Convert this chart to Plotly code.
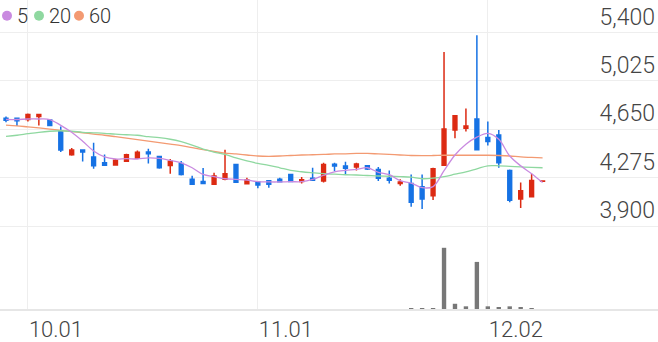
import plotly.graph_objects as go

# ---- data ----
opens  = [4735, 4736, 4727, 4750, 4722, 4635, 4452, 4490, 4435, 4390,
          4373, 4402, 4425, 4475, 4440, 4370, 4385, 4262, 4245, 4225,
          4262, 4378, 4228, 4242, 4252, 4262, 4300, 4245, 4270, 4250,
          4380, 4365, 4358, 4367, 4338, 4270, 4230, 4230, 4205, 4135,
          4372, 4645, 4658, 4730, 4586, 4606, 4330, 4110, 4127, 4248]
highs  = [4750, 4738, 4772, 4768, 4725, 4672, 4505, 4492, 4545, 4455,
          4420, 4460, 4485, 4500, 4445, 4420, 4405, 4290, 4350, 4313,
          4492, 4382, 4275, 4250, 4255, 4275, 4302, 4280, 4352, 4390,
          4390, 4398, 4390, 4372, 4357, 4330, 4262, 4300, 4300, 4352,
          5250, 4758, 4812, 5380, 4710, 4645, 4338, 4237, 4305, 4255]
lows   = [4705, 4675, 4711, 4680, 4675, 4475, 4445, 4400, 4345, 4370,
          4370, 4398, 4420, 4385, 4345, 4305, 4292, 4222, 4228, 4222,
          4255, 4238, 4222, 4193, 4198, 4238, 4240, 4230, 4253, 4237,
          4325, 4300, 4330, 4335, 4250, 4230, 4212, 4050, 4033, 4102,
          4365, 4581, 4633, 4490, 4525, 4352, 4085, 4040, 4125, 4242]
closes = [4720, 4716, 4765, 4765, 4680, 4490, 4489, 4475, 4367, 4372,
          4410, 4452, 4472, 4460, 4352, 4402, 4300, 4225, 4230, 4288,
          4305, 4240, 4258, 4218, 4225, 4243, 4245, 4260, 4255, 4377,
          4365, 4348, 4382, 4343, 4270, 4255, 4242, 4085, 4110, 4345,
          4652, 4755, 4675, 4492, 4556, 4390, 4100, 4173, 4254, 4250]
volumes = [0, 0, 0, 0, 0, 0, 0, 0, 0, 0,
           0, 0, 0, 0, 0, 0, 0, 0, 0, 0,
           0, 0, 0, 0, 0, 0, 0, 0, 0, 0,
           0, 0, 0, 0, 0, 0, 0, 20, 40, 100,
           6200, 530, 270, 4770, 270, 200, 270, 130, 70, 0]
ma5  = [4726, 4726, 4730, 4730, 4726, 4681, 4627, 4558, 4482, 4436,
        4420, 4423, 4420, 4428, 4424, 4409, 4390, 4352, 4300, 4283,
        4267, 4262, 4257, 4244, 4242, 4242, 4244, 4244, 4262, 4294,
        4321, 4332, 4339, 4352, 4317, 4298, 4252, 4233, 4198, 4206,
        4329, 4451, 4535, 4589, 4619, 4573, 4443, 4367, 4306, 4237]
ma20 = [4596, 4604, 4616, 4627, 4635, 4639, 4635, 4627, 4623, 4619,
        4612, 4608, 4604, 4593, 4585, 4573, 4554, 4528, 4497, 4474,
        4455, 4428, 4405, 4386, 4371, 4352, 4332, 4321, 4313, 4306,
        4302, 4298, 4296, 4292, 4288, 4286, 4283, 4279, 4267, 4271,
        4283, 4302, 4321, 4344, 4367, 4367, 4363, 4359, 4355, 4352]
ma60 = [4683, 4677, 4669, 4661, 4652, 4642, 4632, 4623, 4613, 4604,
        4593, 4581, 4570, 4558, 4547, 4535, 4524, 4508, 4493, 4478,
        4466, 4459, 4451, 4443, 4441, 4443, 4447, 4451, 4453, 4455,
        4459, 4460, 4463, 4463, 4459, 4455, 4451, 4447, 4446, 4447,
        4449, 4449, 4449, 4449, 4449, 4447, 4443, 4436, 4432, 4428]
x_tick_pos = [2, 23, 44]
x_tick_labels = ["10.01", "11.01", "12.02"]
y_ticks = [3900, 4275, 4650, 5025, 5400]
legend_names = ["5", "20", "60"]

RED = "#dc2a12"
BLUE = "#1672e4"
MA_COLORS = ["#c98ae0", "#8fd8a0", "#f39a72"]
idx = list(range(len(closes)))

fig = go.Figure()

for ma, col in zip([ma60, ma20, ma5], [MA_COLORS[2], MA_COLORS[1], MA_COLORS[0]]):
    fig.add_trace(go.Scatter(x=idx, y=ma, mode="lines",
                             line=dict(color=col, width=1.3, shape="spline"),
                             hoverinfo="skip", showlegend=False))

fig.add_trace(go.Candlestick(
    x=idx, open=opens, high=highs, low=lows, close=closes,
    increasing=dict(line=dict(color=RED, width=1.5), fillcolor=RED),
    decreasing=dict(line=dict(color=BLUE, width=1.5), fillcolor=BLUE),
    whiskerwidth=0, showlegend=False))

fig.add_trace(go.Bar(x=idx, y=volumes, yaxis="y2", marker_color="#777777",
                     marker_line_width=0, width=0.4, showlegend=False))

fig.update_layout(
    width=658, height=342,
    margin=dict(l=0, r=0, t=0, b=29),
    paper_bgcolor="white", plot_bgcolor="white",
    boxgap=0.5,
    font=dict(family="Roboto", color="#444444"),
    xaxis=dict(range=[-0.548, 59.54], tickvals=x_tick_pos, ticktext=x_tick_labels,
               showgrid=True, gridcolor="#eeeeee", gridwidth=1,
               zeroline=False, showline=True, linecolor="#e6e6e6", linewidth=2,
               ticks="", ticklabelposition="outside right",
               tickfont=dict(size=22, color="#444444", weight=300),
               rangeslider=dict(visible=False), fixedrange=True),
    yaxis=dict(range=[3257.1, 5652.5], side="right", tickvals=y_ticks,
               ticktext=[f"{v:,}" for v in y_ticks],
               showgrid=True, gridcolor="#eeeeee", gridwidth=1,
               zeroline=False, showline=False, ticks="",
               ticklabelposition="inside top",
               tickfont=dict(size=23, color="#444444", weight=300)),
    yaxis2=dict(range=[0, 31300], overlaying="y", visible=False),
)

# legend: coloured dots + labels
circle_px = [7, 39, 79]
label_px = [15, 47, 87]
legend_y = 1 - 16 / 313
for name, col, cx, lx in zip(legend_names, MA_COLORS, circle_px, label_px):
    fig.add_shape(type="circle", xref="paper", yref="paper",
                  xsizemode="pixel", ysizemode="pixel",
                  xanchor=cx / 658, yanchor=legend_y,
                  x0=-5, x1=5, y0=-5, y1=5,
                  fillcolor=col, line=dict(width=0))
    fig.add_annotation(xref="paper", yref="paper", x=lx / 658, y=legend_y,
                       text=name, showarrow=False, xanchor="left", yanchor="middle",
                       font=dict(size=20, color="#333333", weight=300))

fig.write_html("out.html")
